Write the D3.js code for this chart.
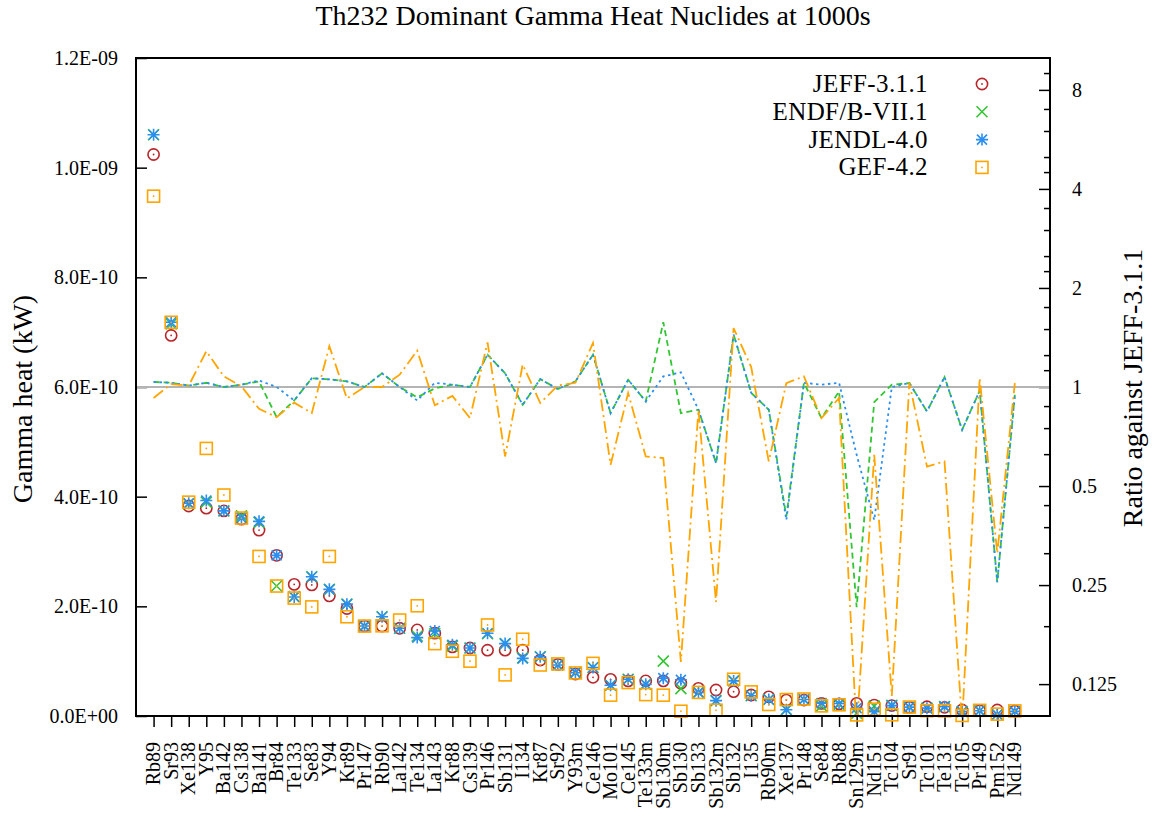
<!DOCTYPE html>
<html lang="en">
<head>
<meta charset="UTF-8">
<title>Th232 Dominant Gamma Heat Nuclides at 1000s</title>
<script src="https://d3js.org/d3.v7.min.js"></script>
<style>
    body, html { margin: 0; padding: 0; background: #fff; }
    svg { display: block; }
    text { font-family: "Liberation Serif", "Times New Roman", serif; fill: #000; }
    .tick text { font-size: 20px; }
    .tick line { stroke: #000; stroke-width: 1.5; }
</style>
</head>
<body>
<svg width="1152" height="816"></svg>
<script>
    const nuclides = ['Rb89', 'Sr93', 'Xe138', 'Y95', 'Ba142', 'Cs138', 'Ba141', 'Br84', 'Te133', 'Se83',
        'Y94', 'Kr89', 'Pr147', 'Rb90', 'La142', 'Te134', 'La143', 'Kr88', 'Cs139', 'Pr146',
        'Sb131', 'I134', 'Kr87', 'Sr92', 'Y93m', 'Ce146', 'Mo101', 'Ce145', 'Te133m', 'Sb130m',
        'Sb130', 'Sb133', 'Sb132m', 'Sb132', 'I135', 'Rb90m', 'Xe137', 'Pr148', 'Se84', 'Rb88',
        'Sn129m', 'Nd151', 'Tc104', 'Sr91', 'Tc101', 'Te131', 'Tc105', 'Pr149', 'Pm152', 'Nd149'];

    // gamma heat, in units of 1E-10 kW
    const jeff = [10.24, 6.94, 3.83, 3.79, 3.74, 3.59, 3.39, 2.93, 2.40, 2.39,
        2.19, 1.96, 1.64, 1.64, 1.60, 1.57, 1.51, 1.26, 1.24, 1.20,
        1.20, 1.20, 1.02, 0.94, 0.765, 0.705, 0.668, 0.64, 0.64, 0.64,
        0.596, 0.505, 0.474, 0.443, 0.383, 0.35, 0.29, 0.29, 0.23, 0.22,
        0.23, 0.20, 0.19, 0.158, 0.17, 0.158, 0.11, 0.097, 0.11, 0.09];
    const endf = [10.60, 7.15, 3.87, 3.90, 3.74, 3.65, 3.53, 2.37, 2.18, 2.54,
        2.31, 2.04, 1.64, 1.81, 1.60, 1.46, 1.50, 1.28, 1.24, 1.50,
        1.32, 1.06, 1.08, 0.93, 0.79, 0.885, 0.56, 0.67, 0.58, 1.00,
        0.50, 0.43, 0.28, 0.64, 0.37, 0.30, 0.117, 0.30, 0.185, 0.213,
        0.049, 0.18, 0.193, 0.162, 0.143, 0.17, 0.08, 0.095, 0.028, 0.085];
    const jendl = [10.60, 7.18, 3.88, 3.93, 3.74, 3.61, 3.55, 2.93, 2.17, 2.54,
        2.31, 2.04, 1.64, 1.81, 1.60, 1.43, 1.55, 1.30, 1.24, 1.51,
        1.32, 1.05, 1.08, 0.93, 0.79, 0.885, 0.56, 0.67, 0.58, 0.69,
        0.66, 0.43, 0.28, 0.64, 0.37, 0.30, 0.114, 0.30, 0.234, 0.227,
        0.143, 0.079, 0.19, 0.162, 0.143, 0.17, 0.08, 0.095, 0.028, 0.085];
    const gef = [9.48, 7.18, 3.90, 4.88, 4.03, 3.61, 2.91, 2.37, 2.15, 1.99,
        2.91, 1.81, 1.64, 1.645, 1.75, 2.01, 1.32, 1.18, 1.00, 1.66,
        0.75, 1.40, 0.93, 0.95, 0.785, 0.96, 0.38, 0.61, 0.39, 0.38,
        0.087, 0.43, 0.105, 0.67, 0.44, 0.21, 0.30, 0.31, 0.185, 0.204,
        0.02, 0.124, 0.022, 0.163, 0.097, 0.094, 0.01, 0.103, 0.034, 0.093];

    // ratio against JEFF-3.1.1 (right axis)
    const ratioEndf = [1.036, 1.03, 1.01, 1.03, 1.0, 1.016, 1.04, 0.81, 0.91, 1.063,
        1.055, 1.04, 1.0, 1.10, 1.0, 0.93, 0.99, 1.016, 1.0, 1.254,
        1.10, 0.883, 1.057, 0.986, 1.04, 1.254, 0.833, 1.052, 0.904, 1.573,
        0.833, 0.853, 0.587, 1.443, 0.96, 0.853, 0.404, 1.03, 0.804, 0.97,
        0.214, 0.90, 1.016, 1.028, 0.843, 1.072, 0.741, 0.974, 0.255, 0.947];
    const ratioJendl = [1.036, 1.03, 1.01, 1.03, 1.0, 1.016, 1.047, 1.0, 0.91, 1.063,
        1.055, 1.04, 1.0, 1.10, 1.0, 0.91, 1.03, 1.016, 1.0, 1.254,
        1.10, 0.883, 1.057, 0.986, 1.04, 1.254, 0.833, 1.052, 0.904, 1.077,
        1.108, 0.853, 0.587, 1.443, 0.96, 0.853, 0.394, 1.03, 1.016, 1.03,
        0.622, 0.394, 1.0, 1.028, 0.843, 1.072, 0.741, 0.974, 0.255, 0.947];
    const ratioGef = [0.926, 1.02, 1.01, 1.284, 1.077, 1.005, 0.858, 0.81, 0.896, 0.833,
        1.33, 0.923, 1.0, 1.0, 1.09, 1.29, 0.88, 0.94, 0.805, 1.367,
        0.615, 1.17, 0.894, 1.01, 1.03, 1.36, 0.58, 0.959, 0.615, 0.608,
        0.146, 0.853, 0.222, 1.51, 1.15, 0.594, 1.028, 1.077, 0.804, 0.926,
        0.09, 0.622, 0.115, 1.03, 0.573, 0.594, 0.095, 1.065, 0.312, 1.028];

    const yTicks = [0, 2, 4, 6, 8, 10, 12];
    const y2Ticks = [0.125, 0.25, 0.5, 1, 2, 4, 8];
    const y2Minor = [0.1875, 0.3125, 0.375, 0.4375, 0.625, 0.75, 0.875, 1.125, 1.25, 1.5, 1.75,
        2.25, 2.5, 3, 3.5, 4.5, 5, 6, 7, 9];

    const series = [
        { name: 'JEFF-3.1.1', values: jeff, color: '#b8262b', shape: 'circle' },
        { name: 'ENDF/B-VII.1', values: endf, color: '#33c533', shape: 'cross' },
        { name: 'JENDL-4.0', values: jendl, color: '#2a8ff0', shape: 'star' },
        { name: 'GEF-4.2', values: gef, color: '#ffa500', shape: 'square' }
    ];
    const ratios = [
        { values: ratioEndf, color: '#33c533', dash: '6,4' },
        { values: ratioJendl, color: '#2a8ff0', dash: '2.5,3.5' },
        { values: ratioGef, color: '#ffa500', dash: '12,4,2,4' }
    ];

    const svg = d3.select('svg');
    const plot = { left: 136, right: 1050, top: 58, bottom: 716 };

    const x = d3.scaleLinear().domain([0, nuclides.length + 2]).range([plot.left, plot.right]);
    const y = d3.scaleLinear().domain([0, 12]).range([plot.bottom, plot.top]);
    const y2 = d3.scaleLog().base(2).domain([0.1, 10]).range([plot.bottom, plot.top]);

    const fmtE = v => {
        const [m, e] = (v * 1e-10).toExponential(1).split('e');
        return m + 'E' + e[0] + e.slice(1).padStart(2, '0');
    };

    svg.append('defs').append('clipPath').attr('id', 'clip')
        .append('rect')
        .attr('x', plot.left).attr('y', plot.top)
        .attr('width', plot.right - plot.left).attr('height', plot.bottom - plot.top);

    // title
    svg.append('text')
        .attr('x', (plot.left + plot.right) / 2).attr('y', 25)
        .attr('text-anchor', 'middle').style('font-size', '28px')
        .text('Th232 Dominant Gamma Heat Nuclides at 1000s');

    // left axis
    const gY = svg.append('g')
        .attr('transform', `translate(${plot.left},0)`)
        .call(d3.axisLeft(y).tickValues(yTicks).tickSizeInner(-11).tickSizeOuter(0)
            .tickPadding(18).tickFormat(fmtE));
    gY.select('.domain').remove();

    // right axis
    const gY2 = svg.append('g')
        .attr('transform', `translate(${plot.right},0)`)
        .call(d3.axisRight(y2).tickValues(y2Ticks).tickSizeInner(-11).tickSizeOuter(0)
            .tickPadding(22).tickFormat(d => String(d)));
    gY2.select('.domain').remove();
    const gY2m = svg.append('g')
        .attr('transform', `translate(${plot.right},0)`)
        .call(d3.axisRight(y2).tickValues(y2Minor).tickSizeInner(-6).tickSizeOuter(0)
            .tickFormat(''));
    gY2m.select('.domain').remove();

    // bottom axis, labels rotated
    const gX = svg.append('g')
        .attr('transform', `translate(0,${plot.bottom})`)
        .call(d3.axisBottom(x).tickValues(d3.range(1, nuclides.length + 1))
            .tickSizeInner(11).tickSizeOuter(0).tickFormat(''));
    gX.select('.domain').remove();

    svg.append('g').selectAll('text')
        .data(nuclides)
        .enter().append('text')
        .attr('transform', (d, i) => `translate(${x(i + 1)},${plot.bottom + 26}) rotate(-90)`)
        .attr('text-anchor', 'end')
        .attr('dy', '0.33em')
        .style('font-size', '20px')
        .text(d => d);

    // axis titles
    svg.append('text')
        .attr('transform', `translate(32,${(plot.top + plot.bottom) / 2 + 12}) rotate(-90)`)
        .attr('text-anchor', 'middle').style('font-size', '28px')
        .text('Gamma heat (kW)');
    svg.append('text')
        .attr('transform', `translate(1142,${(plot.top + plot.bottom) / 2 + 1}) rotate(-90)`)
        .attr('text-anchor', 'middle').style('font-size', '28px')
        .text('Ratio against JEFF-3.1.1');

    // reference line at ratio 1
    svg.append('line')
        .attr('x1', plot.left).attr('x2', plot.right)
        .attr('y1', y2(1)).attr('y2', y2(1))
        .attr('stroke', '#b4b4b4').attr('stroke-width', 2);

    function marker(g, shape, color) {
        if (shape === 'circle') {
            g.append('circle').attr('r', 5.6).attr('fill', 'none')
                .attr('stroke', color).attr('stroke-width', 1.6);
            g.append('circle').attr('r', 0.9).attr('fill', color);
        } else if (shape === 'cross') {
            g.append('path').attr('d', 'M-5.5,-5.5L5.5,5.5M-5.5,5.5L5.5,-5.5')
                .attr('stroke', color).attr('stroke-width', 1.6);
        } else if (shape === 'star') {
            g.append('path').attr('d', 'M-6,0H6M0,-6V6M-5,-5L5,5M-5,5L5,-5')
                .attr('stroke', color).attr('stroke-width', 1.6);
        } else {
            g.append('rect').attr('x', -6).attr('y', -6).attr('width', 12).attr('height', 12)
                .attr('fill', 'none').attr('stroke', color).attr('stroke-width', 1.6);
            g.append('circle').attr('r', 0.9).attr('fill', color);
        }
    }

    // points
    series.forEach(s => {
        s.values.forEach((v, i) => {
            const g = svg.append('g').attr('transform', `translate(${x(i + 1)},${y(v)})`);
            marker(g, s.shape, s.color);
        });
    });

    // ratio lines
    const line = d3.line().x((d, i) => x(i + 1)).y(d => y2(d));
    const gLines = svg.append('g').attr('clip-path', 'url(#clip)');
    ratios.forEach(r => {
        gLines.append('path')
            .attr('d', line(r.values))
            .attr('fill', 'none')
            .attr('stroke', r.color)
            .attr('stroke-width', 1.8)
            .attr('stroke-dasharray', r.dash);
    });

    // border
    svg.append('rect')
        .attr('x', plot.left).attr('y', plot.top)
        .attr('width', plot.right - plot.left).attr('height', plot.bottom - plot.top)
        .attr('fill', 'none').attr('stroke', '#000').attr('stroke-width', 2);

    // legend
    const legend = svg.append('g');
    series.forEach((s, i) => {
        const ly = 84 + i * 27.8;
        legend.append('text')
            .attr('x', 928).attr('y', ly + 8)
            .attr('text-anchor', 'end').style('font-size', '25px')
            .style('letter-spacing', '0.4px')
            .text(s.name);
        marker(legend.append('g').attr('transform', `translate(982,${ly})`), s.shape, s.color);
    });
</script>
</body>
</html>
